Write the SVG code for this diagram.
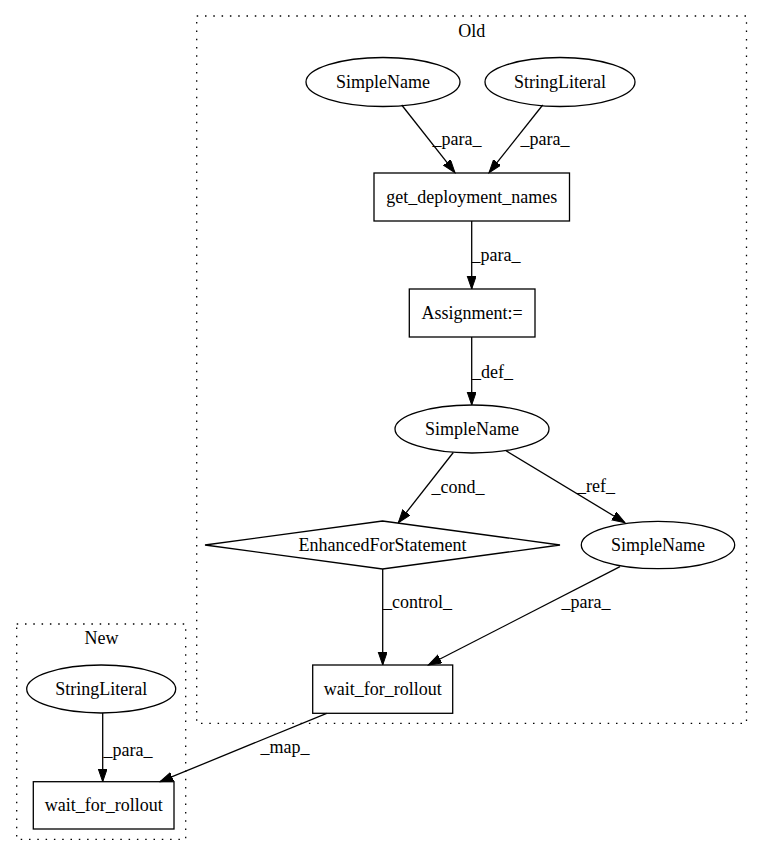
<svg xmlns="http://www.w3.org/2000/svg" width="763" height="856" viewBox="0 0 763 856">
<style>
.node{fill:none;stroke:#000;stroke-width:1.3}
.cluster{fill:none;stroke:#000;stroke-width:1.3;stroke-dasharray:1.5,6.8}
.edge{stroke:#000;stroke-width:1.3;fill:none;marker-end:url(#arrow)}
</style>
<defs>
<marker id="arrow" markerUnits="userSpaceOnUse" markerWidth="14" markerHeight="10" refX="13" refY="4.5" orient="auto">
<path d="M0,0 L13,4.5 L0,9 z" fill="#000" stroke="#000" stroke-width="1"/>
</marker>
</defs>
<rect width="763" height="856" fill="#fff"/>
<g font-family="Liberation Serif, Times New Roman, DejaVu Serif, serif" font-size="18" text-anchor="middle" fill="#000">
<g id="cluster_old">
<rect class="cluster" x="196.7" y="16" width="549.8" height="707.3"/>
<text x="471.7" y="37">Old</text>
</g>
<g id="cluster_new">
<rect class="cluster" x="16.7" y="624" width="169" height="215.3"/>
<text x="101.5" y="644">New</text>
</g>
<g id="connectors">
<line class="edge" x1="401.7" y1="105" x2="455" y2="172.7"/>
<text x="457" y="145">_para_</text>
<line class="edge" x1="542.7" y1="105" x2="489" y2="172.7"/>
<text x="545" y="145">_para_</text>
<line class="edge" x1="471.7" y1="221" x2="471.7" y2="289"/>
<text x="496" y="261">_para_</text>
<line class="edge" x1="471.7" y1="337" x2="471.7" y2="405"/>
<text x="492.5" y="378">_def_</text>
<line class="edge" x1="453.3" y1="452.5" x2="398.3" y2="522.7"/>
<text x="458" y="493">_cond_</text>
<line class="edge" x1="506" y1="450.7" x2="625" y2="522.7"/>
<text x="596" y="492">_ref_</text>
<line class="edge" x1="382.7" y1="569" x2="382.7" y2="665"/>
<text x="417.5" y="608">_control_</text>
<line class="edge" x1="620" y1="566.7" x2="428.3" y2="665"/>
<text x="586" y="608">_para_</text>
<line class="edge" x1="326.7" y1="713.3" x2="160" y2="781.7"/>
<text x="285" y="753">_map_</text>
<line class="edge" x1="102.7" y1="713" x2="102.7" y2="781.7"/>
<text x="128" y="756">_para_</text>
</g>
<g id="sn1">
<ellipse class="node" cx="383" cy="82" rx="77" ry="24.5"/>
<text x="383" y="88">SimpleName</text>
</g>
<g id="sl1">
<ellipse class="node" cx="560" cy="82" rx="75" ry="24.5"/>
<text x="560" y="88">StringLiteral</text>
</g>
<g id="gdn">
<rect class="node" x="374" y="173" width="195.5" height="48"/>
<text x="471.7" y="203">get_deployment_names</text>
</g>
<g id="asg">
<rect class="node" x="409.3" y="289" width="125.7" height="48"/>
<text x="472" y="319">Assignment:=</text>
</g>
<g id="sn2">
<ellipse class="node" cx="472" cy="429" rx="77" ry="24"/>
<text x="472" y="435">SimpleName</text>
</g>
<g id="efs">
<polygon class="node" points="382.5,521 560,545 382.5,569 205,545"/>
<text x="382.5" y="551">EnhancedForStatement</text>
</g>
<g id="sn3">
<ellipse class="node" cx="658" cy="545" rx="76.7" ry="23.7"/>
<text x="658" y="551">SimpleName</text>
</g>
<g id="wfr1">
<rect class="node" x="312.7" y="665" width="140" height="48.3"/>
<text x="382.7" y="695">wait_for_rollout</text>
</g>
<g id="sl2">
<ellipse class="node" cx="101.2" cy="689" rx="74.5" ry="24"/>
<text x="101.2" y="695">StringLiteral</text>
</g>
<g id="wfr2">
<rect class="node" x="33.3" y="781.7" width="140.7" height="47.3"/>
<text x="103.7" y="811">wait_for_rollout</text>
</g>
</g>
</svg>
